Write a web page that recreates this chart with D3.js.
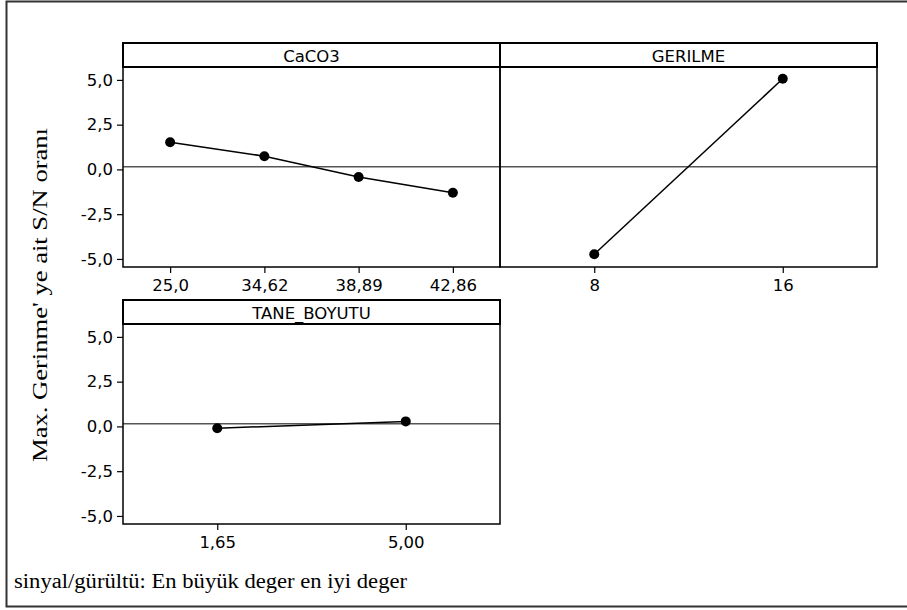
<!DOCTYPE html>
<html>
<head>
<meta charset="utf-8">
<script src="https://cdn.jsdelivr.net/npm/d3@7"></script>
<style>
  html, body { margin: 0; padding: 0; background: #fff; }
  svg { display: block; }
  .tick text { font-family: "DejaVu Sans", Verdana, sans-serif; }
</style>
</head>
<body>
<svg id="chart" width="907" height="610"></svg>
<script>
// Main effects plot for S/N ratios (larger is better)
const factorNames = ["CaCO3", "GERILME", "TANE_BOYUTU"];
const caco3Levels = ["25,0", "34,62", "38,89", "42,86"];
const caco3SN = [1.52, 0.74, -0.42, -1.30];
const gerilmeLevels = ["8", "16"];
const gerilmeSN = [-4.74, 5.06];
const taneLevels = ["1,65", "5,00"];
const taneSN = [-0.10, 0.28];
const meanSN = 0.15;
const yTicks = [-5, -2.5, 0, 2.5, 5];
const yTitle = "Max. Gerinme' ye ait S/N oranı";
const footNote = "sinyal/gürültü: En büyük deger en iyi deger";

const svg = d3.select("#chart");
const fmt = v => d3.format(".1f")(v).replace(".", ",").replace("−", "-");

// outer frame
svg.append("rect")
  .attr("x", 6.5).attr("y", 1.5).attr("width", 920).attr("height", 605)
  .attr("fill", "none").attr("stroke", "#333").attr("stroke-width", 2);

const panels = [
  { name: factorNames[0], levels: caco3Levels, values: caco3SN, x0: 123, x1: 500, top: 43, yAxis: true },
  { name: factorNames[1], levels: gerilmeLevels, values: gerilmeSN, x0: 500, x1: 877, top: 43, yAxis: false },
  { name: factorNames[2], levels: taneLevels, values: taneSN, x0: 123, x1: 500, top: 300, yAxis: true }
];
const stripH = 24, plotH = 200;

panels.forEach(p => {
  const g = svg.append("g");
  const pTop = p.top + stripH, pBot = pTop + plotH;
  const x = d3.scalePoint().domain(p.levels).range([p.x0, p.x1]).padding(0.5);
  const y = d3.scaleLinear().domain([-5.45, 5.72]).range([pBot, pTop]);

  // reference line at overall mean
  g.append("line")
    .attr("x1", p.x0).attr("x2", p.x1)
    .attr("y1", y(meanSN)).attr("y2", y(meanSN))
    .attr("stroke", "#555").attr("stroke-width", 1.5);

  // x axis
  const xa = g.append("g").attr("transform", `translate(0,${pBot})`)
    .call(d3.axisBottom(x).tickSize(6).tickPadding(6));
  xa.select(".domain").remove();
  xa.selectAll("line").attr("stroke", "#000").attr("stroke-width", 1.2);
  xa.selectAll("text").attr("font-size", 16.5).attr("fill", "#000");

  if (p.yAxis) {
    const ya = g.append("g").attr("transform", `translate(${p.x0},0)`)
      .call(d3.axisLeft(y).tickValues(yTicks).tickFormat(fmt).tickSize(6).tickPadding(4));
    ya.select(".domain").remove();
    ya.selectAll("line").attr("stroke", "#000").attr("stroke-width", 1.2);
    ya.selectAll("text").attr("font-size", 16.5).attr("fill", "#000");
  }

  // data line and points
  const pts = p.levels.map((l, i) => [x(l), y(p.values[i])]);
  g.append("path").attr("d", d3.line()(pts))
    .attr("fill", "none").attr("stroke", "#000").attr("stroke-width", 1.5);
  g.selectAll("circle").data(pts).join("circle")
    .attr("cx", d => d[0]).attr("cy", d => d[1]).attr("r", 5).attr("fill", "#000");

  // panel frame
  g.append("rect").attr("x", p.x0).attr("y", pTop).attr("width", p.x1 - p.x0).attr("height", plotH)
    .attr("fill", "none").attr("stroke", "#000").attr("stroke-width", 1.5);
  // strip
  g.append("rect").attr("x", p.x0).attr("y", p.top).attr("width", p.x1 - p.x0).attr("height", stripH)
    .attr("fill", "#fff").attr("stroke", "#000").attr("stroke-width", 2);
  g.append("text").attr("x", (p.x0 + p.x1) / 2).attr("y", p.top + 19)
    .attr("text-anchor", "middle").attr("font-family", "DejaVu Sans, Verdana, sans-serif")
    .attr("font-size", 16.5).text(p.name);
});

// y axis title
svg.append("text")
  .attr("transform", "translate(47,295) rotate(-90)")
  .attr("text-anchor", "middle")
  .attr("font-family", "Liberation Serif, Times New Roman, serif")
  .attr("font-size", 21)
  .attr("textLength", 334).attr("lengthAdjust", "spacingAndGlyphs")
  .text(yTitle);

// footnote
svg.append("text").attr("x", 14).attr("y", 588)
  .attr("font-family", "Liberation Serif, Times New Roman, serif")
  .attr("font-size", 20)
  .attr("textLength", 393).attr("lengthAdjust", "spacingAndGlyphs")
  .text(footNote);
</script>
</body>
</html>
